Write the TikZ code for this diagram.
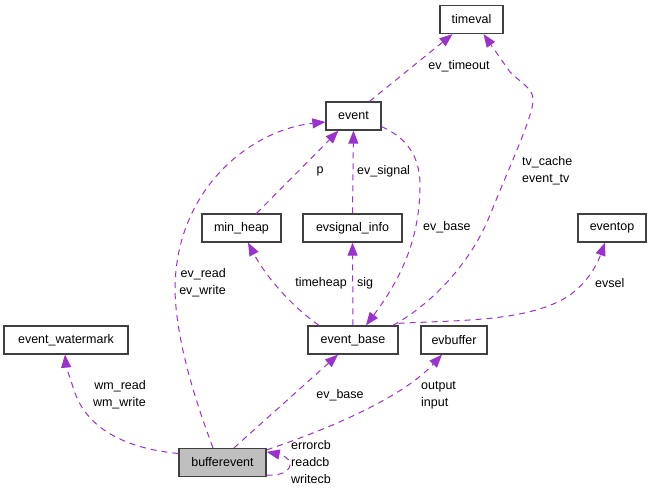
\documentclass[tikz,border=0pt]{standalone}
\usepackage{fontspec}
\setmainfont{Liberation Sans}
\usetikzlibrary{arrows.meta}
\definecolor{edgecol}{HTML}{9A32CD}
\definecolor{boxline}{HTML}{404040}
\definecolor{boxgray}{HTML}{BFBFBF}
\tikzset{
  box/.style={draw=boxline, line width=1.3pt, fill=white, minimum height=28pt, inner sep=0pt, font=\fontsize{12.5}{15}\selectfont},
  edge/.style={draw=edgecol, line width=1pt, dash pattern=on 6pt off 5pt, -{Triangle[length=13pt,width=10pt,fill=edgecol]}},
  lbl/.style={inner sep=0pt, font=\fontsize{12.5}{17}\selectfont, text=black}
}
\begin{document}
\begin{tikzpicture}[x=1pt,y=-1pt]
\useasboundingbox[fill=white] (0,0) rectangle (651,494);
% nodes
\node[box, minimum width=63pt] (timeval) at (471.5,19.5) {timeval};
\node[box, minimum width=55pt] (event) at (353.5,116) {event};
\node[box, minimum width=79pt] (minheap) at (241.5,228) {min\_heap};
\node[box, minimum width=99pt] (evsig) at (352.5,228) {evsignal\_info};
\node[box, minimum width=68pt] (eventop) at (612,228) {eventop};
\node[box, minimum width=124pt] (wm) at (66,340) {event\_watermark};
\node[box, minimum width=90pt] (ebase) at (353,340) {event\_base};
\node[box, minimum width=66pt] (evbuf) at (454,340) {evbuffer};
\node[box, minimum width=87pt, fill=boxgray] (bev) at (222.5,462.5) {bufferevent};
% edges
\draw[edge] ([xshift=16pt]event.north) -- ([xshift=-19pt]timeval.south);
\draw[edge] ([xshift=40pt]ebase.north) .. controls (430,305) and (470,265) .. (490,215)
  .. controls (510,165) and (535,112) .. (533,98)
  .. controls (532,88) and (520,82) .. (510,72) -- ([xshift=12pt]timeval.south);
\draw[edge] ([xshift=-9.5pt]bev.north) .. controls (195,400) and (176,340) .. (175,290)
  .. controls (175,190) and (250,130) .. ([yshift=-6pt]event.west);
\draw[edge] ([xshift=15pt]minheap.north) -- ([xshift=-15pt]event.south);
\draw[edge] (evsig.north) -- (event.south);
\draw[edge] ([yshift=4pt]event.south east) .. controls (400,135) and (420,150) .. (420,185)
  .. controls (420,240) and (400,280) .. ([xshift=13pt]ebase.north);
\draw[edge] ([xshift=-34pt]ebase.north) .. controls (290,305) and (265,275) .. ([xshift=6.5pt]minheap.south);
\draw[edge] (ebase.north) -- (evsig.south);
\draw[edge] ([yshift=2pt]ebase.north east) .. controls (460,320) and (530,322) .. (570,295)
  .. controls (590,280) and (598,262) .. ([xshift=-7pt]eventop.south);
\draw[edge] ([xshift=11.5pt]bev.north) -- ([xshift=-15pt]ebase.south);
\draw[edge] ([yshift=-2pt]bev.north east) .. controls (320,432) and (400,400) .. ([xshift=-12pt]evbuf.south);
\draw[edge] ([yshift=9pt]bev.west) .. controls (120,448) and (85,425) .. (74,390)
  .. controls (70,378) and (66,366) .. ([xshift=-1pt]wm.south);
\draw[edge] ([yshift=2pt]bev.south east) .. controls (283,476) and (291,470) .. (290,463)
  .. controls (289,458) and (282,455) .. ([yshift=-4pt]bev.north east);
% labels
\node[lbl] (l1) at (459,66) {ev\_timeout};
\node[lbl, anchor=west, align=left] (l2) at (522,171) {tv\_cache\\event\_tv};
\node[lbl, anchor=east, align=right] (l3) at (226,283) {ev\_read\\ev\_write};
\node[lbl] (l4) at (320,171) {p};
\node[lbl, anchor=west] (l5) at (357,171) {ev\_signal};
\node[lbl, anchor=west] (l6) at (423,227) {ev\_base};
\node[lbl] (l7) at (321,283) {timeheap};
\node[lbl, anchor=west] (l8) at (357,283) {sig};
\node[lbl, anchor=west] (l9) at (595,283) {evsel};
\node[lbl] (l10) at (340,395) {ev\_base};
\node[lbl, anchor=west, align=left] (l11) at (421,395) {output\\input};
\node[lbl, anchor=east, align=right] (l12) at (146,395) {wm\_read\\wm\_write};
\node[lbl, anchor=west, align=left] (l13) at (291,462) {errorcb\\readcb\\writecb};
\end{tikzpicture}
\end{document}
